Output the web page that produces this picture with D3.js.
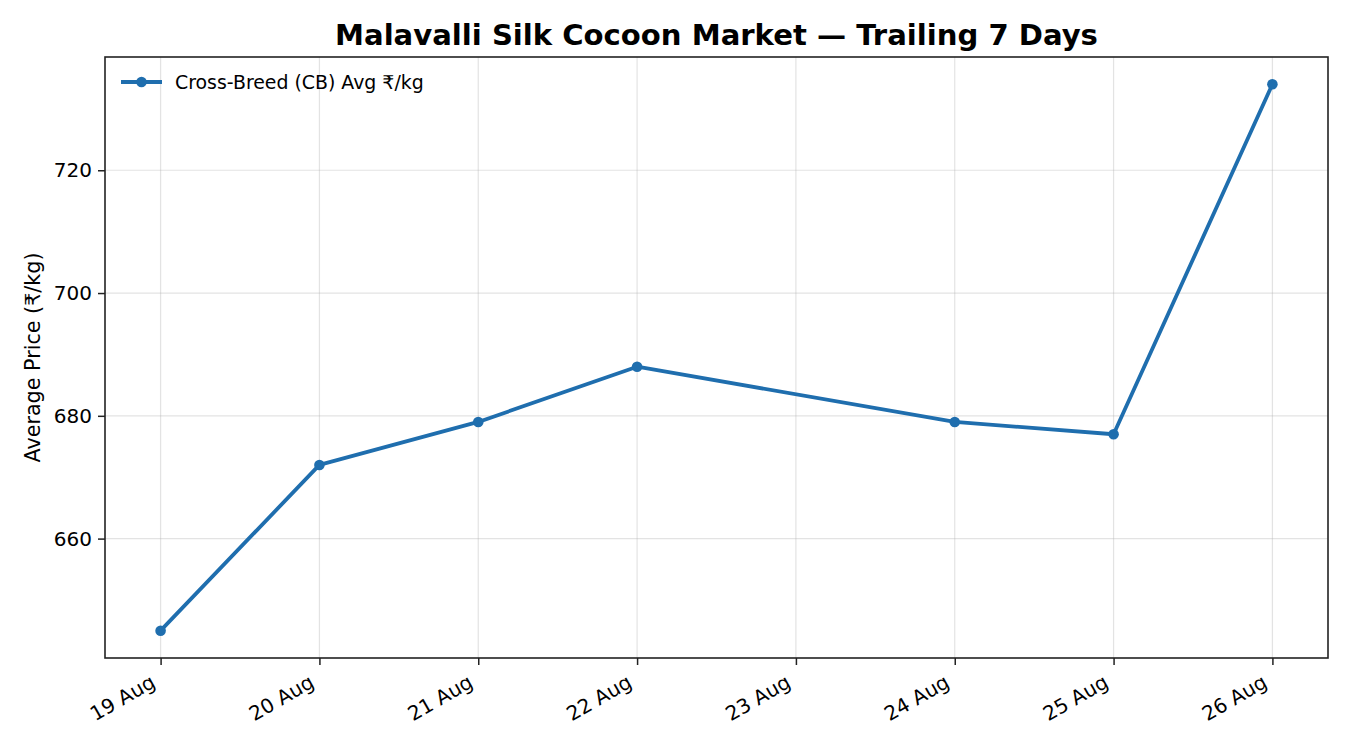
<!DOCTYPE html>
<html><head><meta charset="utf-8">
<script src="https://cdn.jsdelivr.net/npm/d3@7"></script>
<style>body{margin:0;background:#fff}svg, svg text{font-family:"DejaVu Sans",sans-serif}</style>
</head><body>
<svg id="c" width="1350" height="750"></svg>
<script>
const dates = ["2024-08-19","2024-08-20","2024-08-21","2024-08-22","2024-08-24","2024-08-25","2024-08-26"];
const prices = [645, 672, 679, 688, 679, 677, 734];
const tickDates = ["2024-08-19","2024-08-20","2024-08-21","2024-08-22","2024-08-23","2024-08-24","2024-08-25","2024-08-26"];
const yTicks = [660, 680, 700, 720];
const seriesName = "Cross-Breed (CB) Avg ₹/kg";
const title = "Malavalli Silk Cocoon Market — Trailing 7 Days";
const yLabel = "Average Price (₹/kg)";

const parse = d3.utcParse("%Y-%m-%d");
const data = dates.map((d,i)=>({date:parse(d), v:prices[i]}));
const color = "#1f6eae";
const L=105, R=1328, T=57, B=658;
const FF = "DejaVu Sans";
const svg = d3.select("#c");

const x0 = d3.min(data,d=>d.date), x1 = d3.max(data,d=>d.date);
const xspan = x1 - x0;
const x = d3.scaleUtc().domain([new Date(+x0 - xspan*0.05), new Date(+x1 + xspan*0.05)]).range([L,R]);
const ymin = d3.min(prices), ymax = d3.max(prices), ys = ymax-ymin;
const y = d3.scaleLinear().domain([ymin-ys*0.05, ymax+ys*0.05]).range([B,T]);

const ticks = tickDates.map(parse);
const fmt = d3.utcFormat("%-d %b");

// grid
const g = svg.append("g");
g.selectAll(".vx").data(ticks).join("line")
  .attr("x1",d=>x(d)).attr("x2",d=>x(d)).attr("y1",T).attr("y2",B)
  .attr("stroke","#b0b0b0").attr("stroke-opacity",0.35).attr("stroke-width",1.2);
g.selectAll(".hy").data(yTicks).join("line")
  .attr("y1",d=>y(d)).attr("y2",d=>y(d)).attr("x1",L).attr("x2",R)
  .attr("stroke","#b0b0b0").attr("stroke-opacity",0.35).attr("stroke-width",1.2);

// axes
const xAxis = svg.append("g").attr("transform",`translate(0,${B})`)
  .call(d3.axisBottom(x).tickValues(ticks).tickFormat(fmt).tickSize(7).tickSizeOuter(0));
xAxis.attr("font-family",FF);
xAxis.select(".domain").remove();
xAxis.selectAll(".tick line").attr("stroke","#222").attr("stroke-width",1.5);
xAxis.selectAll(".tick text").attr("font-size",20).attr("fill","#000")
  .attr("text-anchor","end").attr("dy",null).attr("y",null)
  .attr("transform","translate(-12,15) rotate(-30)")
  .attr("dominant-baseline","hanging");

const yAxis = svg.append("g").attr("transform",`translate(${L},0)`)
  .call(d3.axisLeft(y).tickValues(yTicks).tickSize(7).tickPadding(6));
yAxis.attr("font-family",FF);
yAxis.select(".domain").remove();
yAxis.selectAll(".tick line").attr("stroke","#222").attr("stroke-width",1.5);
yAxis.selectAll(".tick text").attr("font-size",20).attr("fill","#000");

// frame
svg.append("rect").attr("x",L).attr("y",T).attr("width",R-L).attr("height",B-T)
  .attr("fill","none").attr("stroke","#222").attr("stroke-width",1.6);

// line
const line = d3.line().x(d=>x(d.date)).y(d=>y(d.v));
svg.append("path").datum(data).attr("d",line).attr("fill","none")
  .attr("stroke",color).attr("stroke-width",3.8).attr("stroke-linejoin","round");
svg.selectAll(".pt").data(data).join("circle")
  .attr("cx",d=>x(d.date)).attr("cy",d=>y(d.v)).attr("r",5.3).attr("fill",color);

// legend
const lg = svg.append("g").attr("transform",`translate(${L+16},${T+25})`);
lg.append("line").attr("x1",0).attr("x2",41).attr("stroke",color).attr("stroke-width",3.8);
lg.append("circle").attr("cx",20.5).attr("r",5.3).attr("fill",color);
lg.append("text").attr("x",54).attr("y",0).attr("dy","0.35em").attr("font-size",18.9).text(seriesName);

// title
svg.append("text").attr("x",(L+R)/2).attr("y",45).attr("text-anchor","middle")
  .attr("font-size",29.1).attr("font-weight","bold").text(title);

// y label
svg.append("text").attr("transform",`translate(40,${(T+B)/2}) rotate(-90)`)
  .attr("text-anchor","middle").attr("font-size",20.7).text(yLabel);
</script>
</body></html>
